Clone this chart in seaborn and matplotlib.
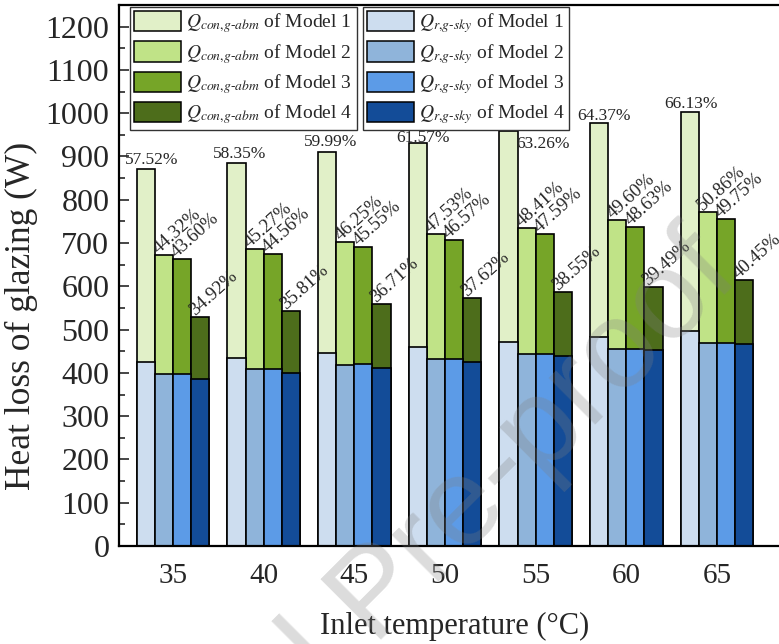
import matplotlib
matplotlib.use("Agg")
import matplotlib.pyplot as plt
import numpy as np
import pandas as pd
import seaborn as sns
from matplotlib.patches import Patch
from matplotlib.ticker import MultipleLocator

# ---- data -------------------------------------------------------------
temps = [35, 40, 45, 50, 55, 60, 65]
models = ["Model 1", "Model 2", "Model 3", "Model 4"]

# radiative loss glazing -> sky (W)
q_sky_m1 = [425, 434, 447, 459, 472, 482, 496]
q_sky_m2 = [397, 408, 419, 432, 443, 456, 470]
q_sky_m3 = [398, 408, 420, 432, 443, 455, 468]
q_sky_m4 = [386, 399, 412, 425, 439, 452, 466]

# convective loss glazing -> ambient (W)
q_abm_m1 = [447, 451, 463, 473, 487, 495, 507]
q_abm_m2 = [275, 279, 283, 288, 292, 297, 301]
q_abm_m3 = [264, 267, 271, 274, 279, 283, 287]
q_abm_m4 = [144, 145, 146, 147, 147, 147, 148]

share_m1 = ["57.52%", "58.35%", "59.99%", "61.57%", "63.26%", "64.37%", "66.13%"]
share_m2 = ["44.32%", "45.27%", "46.25%", "47.53%", "48.41%", "49.60%", "50.86%"]
share_m3 = ["43.60%", "44.56%", "45.55%", "46.57%", "47.59%", "48.63%", "49.75%"]
share_m4 = ["34.92%", "35.81%", "36.71%", "37.62%", "38.55%", "39.49%", "40.45%"]

q_sky = [q_sky_m1, q_sky_m2, q_sky_m3, q_sky_m4]
q_abm = [q_abm_m1, q_abm_m2, q_abm_m3, q_abm_m4]
shares = [share_m1, share_m2, share_m3, share_m4]

rows = []
for m, name in enumerate(models):
    for t, temp in enumerate(temps):
        rows.append({"temp": temp, "model": name,
                     "sky": q_sky[m][t],
                     "total": q_sky[m][t] + q_abm[m][t]})
df = pd.DataFrame(rows)

green = ["#E1F0C8", "#C0E387", "#76A528", "#4D6D1B"]
blue = ["#CDDDEF", "#8FB4DA", "#5C9BE7", "#134C98"]

# ---- style ------------------------------------------------------------
sns.set_style("white")
plt.rcParams["font.family"] = ["Liberation Serif", "DejaVu Serif"]
plt.rcParams["mathtext.fontset"] = "stix"

fig = plt.figure(figsize=(7.79, 6.44), dpi=100)
ax = fig.add_axes([119 / 779, 1 - 546 / 644, 660 / 779, 541 / 644])

bar_kw = dict(hue="model", hue_order=models, width=0.8, dodge=True, gap=0,
              edgecolor="black", linewidth=1.2, errorbar=None, legend=False,
              saturation=1, ax=ax)
sns.barplot(data=df, x="temp", y="total", palette=green, **bar_kw)
sns.barplot(data=df, x="temp", y="sky", palette=blue, **bar_kw)

ax.set_xlim(-0.596, 6.684)
ax.set_ylim(0, 1250)
ax.yaxis.set_major_locator(MultipleLocator(100))
ax.yaxis.set_minor_locator(MultipleLocator(50))
ax.tick_params(axis="y", which="major", direction="in", length=7, width=1.2,
               labelsize=23, pad=7, left=True)
ax.tick_params(axis="y", which="minor", direction="in", length=4, width=1.2,
               left=True)
ax.tick_params(axis="x", length=0, labelsize=21, pad=12)

for side in ["left", "bottom", "top"]:
    ax.spines[side].set_linewidth(1.6)
    ax.spines[side].set_color("black")
ax.spines["right"].set_visible(False)

ax.set_xlabel("Inlet temperature (\u00b0C)", fontsize=22)
ax.set_ylabel("Heat loss of glazing (W)", fontsize=25.5)
ax.xaxis.set_label_coords(0.509, -0.121)
ax.yaxis.set_label_coords(-0.122, 0.425)

# ---- share labels -----------------------------------------------------
# offsets (pixels) of the Model 1 labels from the top centre of each bar
m1_offsets = [(6, 9), (3.5, 9), (3, 10), (5, 5), (34.5, -13), (5, 7), (1, 8)]
px = 0.72
for t, bar in enumerate(ax.containers[0]):
    xc = bar.get_x() + bar.get_width() / 2
    dx, dy = m1_offsets[t]
    ax.annotate(shares[0][t], xy=(xc, bar.get_height()),
                xytext=(dx * px, dy * px), textcoords="offset points",
                ha="center", va="center", fontsize=12.5)

for m in range(1, 4):
    for t, bar in enumerate(ax.containers[m]):
        ax.annotate(shares[m][t], xy=(bar.get_x(), bar.get_height()),
                    xytext=(4 * px, 1 * px), textcoords="offset points",
                    ha="left", va="baseline", rotation=42,
                    rotation_mode="anchor", fontsize=13.5)

# ---- legends ----------------------------------------------------------
leg_kw = dict(loc="upper left", fontsize=14, handlelength=2.42,
              handleheight=1.23, labelspacing=0.3, borderpad=0.2,
              handletextpad=0.28, borderaxespad=0, frameon=True,
              fancybox=False, framealpha=1, edgecolor="#333333")
h_g = [Patch(facecolor=c, edgecolor="black", linewidth=1.1) for c in green]
h_b = [Patch(facecolor=c, edgecolor="black", linewidth=1.1) for c in blue]
lab_g = [r"$Q_{con{,}g\text{-}abm}$ of " + m for m in models]
lab_b = [r"$Q_{r{,}g\text{-}sky}$ of " + m for m in models]
leg1 = ax.legend(h_g, lab_g, bbox_to_anchor=(0.0167, 0.996), **leg_kw)
ax.add_artist(leg1)
leg2 = ax.legend(h_b, lab_b, bbox_to_anchor=(0.3697, 0.996), **leg_kw)
for lg in (leg1, leg2):
    lg.get_frame().set_linewidth(1.0)

# ---- watermark --------------------------------------------------------
fig.text(742 / 779, 1 - 278 / 644, "Journal Pre-proof", rotation=45,
         rotation_mode="anchor", ha="right", va="baseline", fontsize=90,
         color="gray", alpha=0.28, family="Liberation Sans", zorder=10)

fig.savefig("out.png", dpi=100)
